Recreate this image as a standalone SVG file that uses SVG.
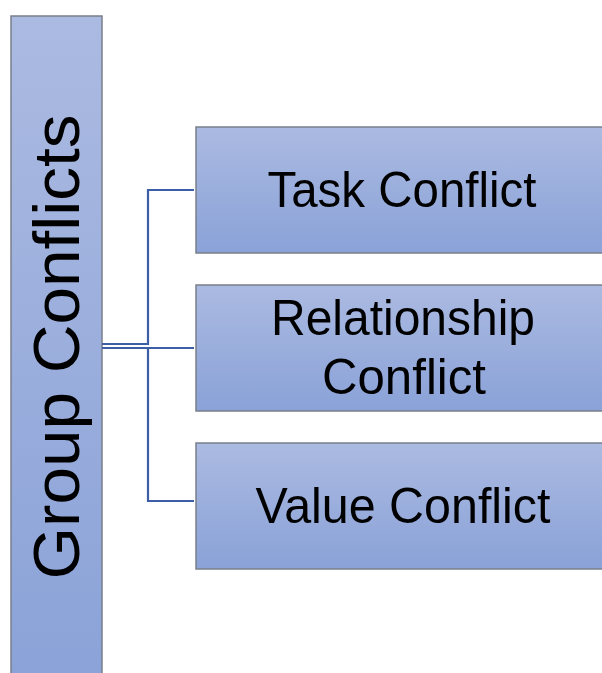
<svg xmlns="http://www.w3.org/2000/svg" width="602" height="673" viewBox="0 0 602 673">
<defs>
<linearGradient id="g" x1="0" y1="0" x2="0" y2="1">
<stop offset="0" stop-color="#abbae1"/>
<stop offset="1" stop-color="#8aa2d8"/>
</linearGradient>
<style>
.box{fill:url(#g);stroke:#7a7f8a;stroke-width:1.5}
.t{font-family:"Liberation Sans",Arial,sans-serif;fill:#000;text-anchor:middle}
.c{fill:none;stroke:#3b5ea6;stroke-width:2.2}
</style>
</defs>
<rect width="602" height="673" fill="#fff"/>
<g id="group-conflicts">
<rect class="box" x="11" y="16" width="91" height="680"/>
<text class="t" font-size="64" transform="translate(79,347) rotate(-90)" textLength="465" lengthAdjust="spacingAndGlyphs">Group Conflicts</text>
</g>
<g id="connectors">
<path class="c" d="M102,344 H148 V190 H194"/>
<path class="c" d="M102,348 H194"/>
<path class="c" d="M102,348 H148 V501 H194"/>
</g>
<g id="task">
<rect class="box" x="196" y="127" width="410" height="126"/>
<text class="t" x="402" y="207" font-size="50" textLength="269" lengthAdjust="spacingAndGlyphs">Task Conflict</text>
</g>
<g id="relationship">
<rect class="box" x="196" y="285" width="410" height="126"/>
<text class="t" x="403" y="335" font-size="50" textLength="264" lengthAdjust="spacingAndGlyphs">Relationship</text>
<text class="t" x="404" y="394" font-size="50" textLength="164" lengthAdjust="spacingAndGlyphs">Conflict</text>
</g>
<g id="value">
<rect class="box" x="196" y="443" width="410" height="126"/>
<text class="t" x="403" y="523" font-size="50" textLength="295" lengthAdjust="spacingAndGlyphs">Value Conflict</text>
</g>
</svg>
